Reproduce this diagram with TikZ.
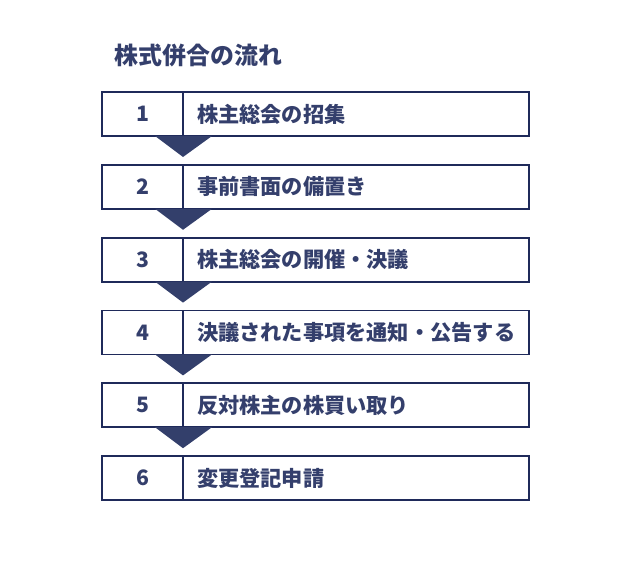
\documentclass[tikz,border=0pt]{standalone}
\usepackage{fontspec}
\setmainfont{Noto Sans CJK JP}
\usetikzlibrary{positioning}
\definecolor{navy}{HTML}{1F2A5A}
\definecolor{navyfill}{HTML}{333F6B}
\definecolor{navytext}{HTML}{343F6C}
\def\rowpitch{72.8}

\begin{document}
\begin{tikzpicture}[x=1bp,y=-1bp,line width=1.8bp,draw=navy]
      \tikzstyle{cell}=[draw=navy,minimum height=44bp,inner sep=0pt,outer sep=0pt,text=navytext,font=\fontsize{21.3}{24}\selectfont\bfseries]
      \tikzstyle{num cell}=[cell,minimum width=81bp]
      \tikzstyle{step cell}=[cell,minimum width=346bp,text width=318bp,align=left,inner xsep=13bp]
      \tikzstyle{drop}=[fill=navyfill,draw=none]

      \useasboundingbox (0,0) rectangle (622,564);

      % Title
      \node[anchor=west,inner sep=0pt,text=navytext,font=\fontsize{24}{28}\selectfont\bfseries] (title) at (114,55) {株式併合の流れ};

      % Draw the steps
      \foreach \name / \label in {1/株主総会の招集,2/事前書面の備置き,3/株主総会の開催・決議,4/決議された事項を通知・公告する,5/反対株主の株買い取り,6/変更登記申請}
      {
          \node[num cell] (N-\name) at (142.5,{114+\rowpitch*(\name-1)}) {\name};
          \node[step cell,anchor=west] (S-\name) at (N-\name.east) {\label};
      }

      % Draw the arrows between the steps
      \foreach \source in {1,...,5}
          \fill[drop] ([xshift=-28bp]N-\source.south east) -- ([xshift=29bp]N-\source.south east)
              -- ([yshift=-21bp]N-\source.south east) -- cycle;
  \end{tikzpicture}
\end{document}
